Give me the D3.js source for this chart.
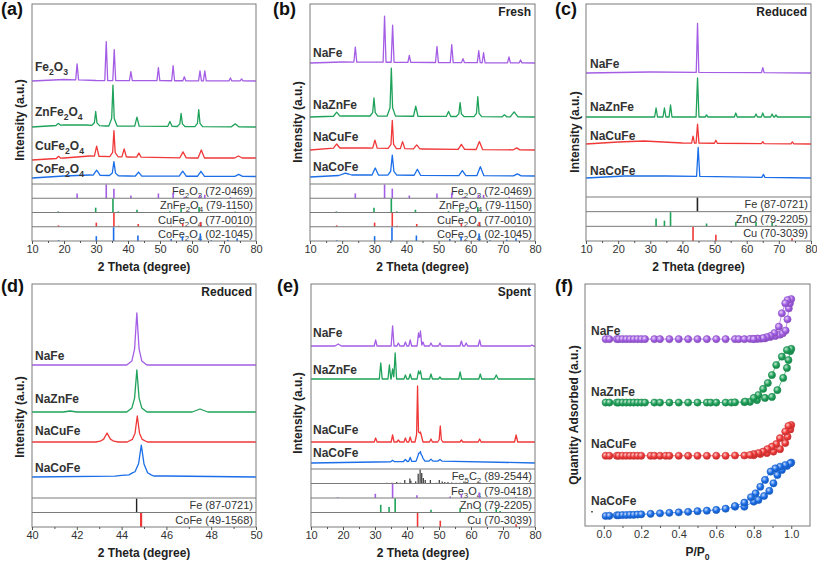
<!DOCTYPE html>
<html><head><meta charset="utf-8">
<script src="https://cdn.jsdelivr.net/npm/d3@7"></script>
<style>body{margin:0;background:#fff}svg{display:block}text{font-family:"Liberation Sans",Arial,sans-serif}</style>
</head><body><svg id="c" width="817" height="561"></svg>
<script>
// ---------------- DATA ----------------
const C_PURPLE="#a45ee5", C_GREEN="#1fa25a", C_RED="#f03838", C_BLUE="#1b6ee8", C_BLACK="#222", C_DARK="#444";
const sampleColors=[C_PURPLE,C_GREEN,C_RED,C_BLUE];
const naLabels=["NaFe","NaZnFe","NaCuFe","NaCoFe"];

// (a) precursor oxides: offsets (a.u.), baselines, peaks [2θ, height, halfwidth?]
const aLabels=["Fe_2O_3","ZnFe_2O_4","CuFe_2O_4","CoFe_2O_4"];
const aOffsets=[103,57,24,6];
const aWidths=[0.45,0.7,0.7,0.9];
const aBase=[[[10,0],[20,1.5],[30,0.5],[80,0]],[[10,0],[20,2],[27,2],[33,1],[80,0]],[[10,0],[20,2],[28,4],[40,3],[60,2],[80,2]],[[10,0],[20,2],[28,3],[40,2],[80,1.5]]];
const aPeaks=[
 [[24.1,16],[33.2,39],[35.7,31],[40.9,9],[49.5,13],[54.1,15],[57.6,4],[62.5,10],[64.0,10],[72.0,3],[75.5,2]],
 [[18.2,2],[29.9,10,0.4],[29.9,4,1.2],[35.3,30,0.4],[35.3,11,1.3],[42.8,9],[53.1,5],[56.6,9,0.4],[56.6,4,1.2],[62.1,12,0.4],[62.1,5,1.2],[73.5,3,1.2]],
 [[18.3,2],[30.2,10],[35.6,20,0.4],[35.6,6,1.3],[38.8,8],[43.4,4],[57.2,6,1],[62.9,8,1],[74.5,2,1.2]],
 [[30.2,5,1.1],[35.6,10,0.5],[35.6,4,1.4],[43.3,4,1],[57.1,5,1.1],[62.8,5,1.1],[74.6,2,1.2]]
];
// (b) fresh catalysts
const bOffsets=[121,67,34,7];
const bWidths=[0.45,0.7,0.7,0.9];
const bBase=[[[10,0],[20,1],[80,0]],[[10,0],[20,1],[30,1],[80,0]],[[10,0],[18,2],[28,2],[45,1],[80,0]],[[10,0],[22,2],[30,2],[80,1]]];
const bPeaks=[
 [[24.1,15],[33.2,46],[35.7,37],[40.9,7],[49.5,16],[54.1,18],[57.6,4],[62.5,12],[64.0,10],[71.9,6],[75.5,3]],
 [[18.3,4,1],[29.9,13,0.4],[29.9,5,1.2],[35.3,36,0.4],[35.3,12,1.3],[42.9,10],[53.1,5],[56.7,10,0.4],[56.7,4,1.2],[62.2,15,0.4],[62.2,5,1.2],[70.5,2],[73.5,5,1.2]],
 [[18.3,4,1],[30.2,8],[35.6,22,0.4],[35.6,6,1.3],[38.8,7],[43.2,4,1],[57.1,5,1],[62.7,8,1],[74.3,2,1]],
 [[21,2,2],[30.3,7,1],[35.6,14,0.5],[35.6,6,1.4],[43.4,6,1],[57.4,5,1.1],[63.0,9,1.1],[74.5,2,1.2]]
];
// (c) reduced catalysts
const cOffsets=[124,80,53,19];
const cWidths=[0.4,0.45,0.45,0.45];
const cBase=[[[10,0],[30,1],[80,0]],[[10,0],[80,0]],[[10,0],[20,2],[28,3],[40,1],[80,0]],[[10,0],[22,2],[35,2],[80,0]]];
const cPeaks=[
 [[44.7,49],[65.0,5]],
 [[31.8,9],[34.4,9],[36.3,12],[44.7,39],[47.5,2],[56.6,4],[62.9,3],[65.0,4],[67.9,3],[69.1,2]],
 [[43.3,7],[44.7,19],[50.4,3],[65.0,2],[74.2,2]],
 [[44.9,29,0.5],[65.2,3]]
];
// (d) reduced, 40–50°
const dOffsets=[133,86,56,21];
const dWidths=[0.3,0.3,0.3,0.3];
const dBase=[[[40,0],[50,0]],[[40,0],[50,0]],[[40,0],[50,0]],[[40,0],[44,1],[46,1],[50,0]]];
const dPeaks=[
 [[44.68,26,0.1],[44.68,18,0.22],[44.68,8,0.45]],
 [[41.7,1,0.3],[44.68,20,0.1],[44.68,14,0.22],[44.68,8,0.45],[47.5,3,0.35]],
 [[43.35,4,0.15],[43.35,3,0.3],[43.35,2,0.5],[44.7,12,0.1],[44.7,9,0.22],[44.7,5,0.45]],
 [[44.5,1.5,0.8],[44.88,12,0.12],[44.88,12,0.28],[44.88,6,0.55]]
];
// (e) spent catalysts
const eOffsets=[123,90,27,6];
const eWidths=[0.45,0.45,0.45,0.6];
const eBase=[[[10,0],[80,0]],[[10,0],[80,0]],[[10,0],[80,0]],[[10,0],[30,1],[50,2],[80,0]]];
const ePeaks=[
 [[18.5,2,1],[30.2,6],[35.5,20],[37.3,3],[39.5,4],[41.0,6],[43.6,13],[44.2,15],[45.0,4],[47.5,3],[50.3,3],[57.0,5],[58.5,3],[62.7,6],[79,1]],
 [[31.8,16],[34.5,14],[35.5,10],[36.3,26],[39.5,4],[41.0,5],[43.6,8],[44.2,8],[47.5,5],[50.3,2],[56.6,7],[62.9,5],[67.9,4,0.6]],
 [[30.2,4],[35.5,7],[37.3,2],[39.5,4],[41.0,5],[43.3,44,0.3],[43.3,12,0.8],[44.2,10,0.8],[47.5,3],[50.4,12,0.35],[50.4,4,0.8],[57.0,2],[62.7,3],[74.1,7,0.5]],
 [[35.5,1.5],[39.5,2],[41.0,4,0.5],[43.6,7,0.8],[44.2,7,0.7],[44.8,4,0.8],[47.5,2],[50.3,1.5]]
];

// reference patterns (JCPDS): [2θ, relative intensity]
const refFe2O3=[[24.1,0.35],[33.2,1.0],[35.6,0.7],[40.9,0.2],[49.5,0.35],[54.1,0.4],[57.6,0.1],[62.4,0.25],[64.0,0.25],[72.0,0.1],[75.5,0.06]];
const refZnFe2O4=[[18.2,0.08],[29.9,0.35],[35.3,1.0],[37.0,0.08],[42.8,0.2],[53.1,0.1],[56.6,0.3],[62.2,0.4],[73.5,0.08]];
const refCuFe2O4=[[18.3,0.1],[30.1,0.3],[35.6,1.0],[37.1,0.07],[43.2,0.2],[53.5,0.07],[57.1,0.25],[62.7,0.35],[74.1,0.08]];
const refCoFe2O4=[[18.3,0.05],[30.1,0.35],[35.5,1.0],[43.1,0.4],[53.5,0.15],[57.0,0.35],[62.6,0.55],[66.0,0.05],[71.2,0.1],[74.1,0.2]];
const refFe=[[44.67,1.0],[65.0,0.1]];
const refZnO=[[31.8,0.55],[34.4,0.4],[36.3,1.0],[47.5,0.2],[56.6,0.3],[62.9,0.3],[66.4,0.04],[67.9,0.25],[69.1,0.1],[72.6,0.03],[77.0,0.04]];
const refCu=[[43.3,1.0],[50.4,0.45],[74.1,0.2]];
const refCoFe=[[44.87,1.0]];
const refFe5C2=[[33.8,0.05],[35.3,0.05],[36.8,0.1],[37.9,0.05],[39.3,0.25],[40.9,0.35],[41.2,0.2],[42.7,0.15],[43.5,0.7],[44.1,1.0],[44.6,0.75],[45.1,0.4],[45.7,0.25],[47.3,0.25],[49.2,0.05],[50.1,0.25],[51.0,0.15],[51.8,0.1],[52.8,0.1],[54.0,0.08],[55.3,0.05],[56.5,0.05],[57.8,0.15],[58.5,0.05],[78.5,0.07]];
const refFe3O4=[[18.3,0.05],[30.1,0.3],[35.5,1.0],[43.1,0.2],[53.5,0.1],[57.0,0.3],[62.6,0.4],[74.0,0.08]];

// (f) N2 isotherms: P/P0 and quantity adsorbed (a.u.), adsorption then desorption
const fP=[
 [0.01,0.03,0.07,0.08,0.10,0.12,0.14,0.16,0.18,0.20,0.22,0.27,0.30,0.35,0.40,0.45,0.50,0.55,0.60,0.65,0.70,0.72,0.75,0.78,0.80,0.82,0.84,0.86,0.888,0.915,0.94,0.955,0.97,0.98,0.987,0.993,1.0,0.98,0.968,0.95,0.934,0.91,0.89,0.87,0.85,0.82,0.80],
 [0.01,0.03,0.07,0.08,0.10,0.12,0.14,0.16,0.18,0.20,0.22,0.27,0.30,0.35,0.40,0.45,0.50,0.55,0.57,0.60,0.65,0.68,0.70,0.75,0.78,0.817,0.86,0.897,0.926,0.957,0.977,0.985,0.995,1.0,0.977,0.95,0.92,0.897,0.875,0.85,0.825,0.80,0.755],
 [0.01,0.03,0.07,0.08,0.10,0.12,0.14,0.16,0.18,0.20,0.25,0.27,0.30,0.33,0.35,0.40,0.45,0.50,0.55,0.60,0.65,0.70,0.75,0.80,0.835,0.87,0.905,0.94,0.968,0.98,0.995,1.0,0.985,0.968,0.94,0.92,0.897,0.873,0.85,0.825,0.80,0.78],
 [0.01,0.03,0.07,0.08,0.10,0.12,0.14,0.16,0.18,0.20,0.25,0.30,0.35,0.40,0.45,0.50,0.55,0.60,0.65,0.70,0.75,0.80,0.825,0.855,0.883,0.905,0.926,0.95,0.977,1.0,0.995,0.968,0.94,0.915,0.89,0.86,0.835,0.81,0.785,0.75,0.70]
];
const fQ=[
 [77,77,77,77,77,77,77,77,77,77,77,77,77,77,77,77,77,77,77,77,77,77,77,77.1,77.1,77.2,77.2,77.3,77.9,78.3,78.8,79.4,80.5,85.1,89.6,91.7,93.4,93.0,91.7,87.6,82.1,79.5,78.3,77.8,77.4,77.2,77.0],
 [51,51,51,51,51,51,51,51,51,51,51,51,51,51,51,51,51,51,51,51,51,51,51.1,51.2,51.3,52.0,52.9,53.3,56.1,61.1,65.2,68.4,72.1,73.0,72.5,69.8,66.4,62.3,59.0,56.6,54.1,52.9,51.4],
 [29.2,29.2,29.2,29.2,29.2,29.2,29.2,29.2,29.2,29.2,29.2,29.2,29.2,29.2,29.2,29.2,29.2,29.2,29.2,29.2,29.2,29.3,29.3,29.4,29.9,30.3,30.9,31.9,34.4,37.0,40.0,41.8,41.4,39.1,36.4,34.0,32.9,31.9,30.9,30.3,29.9,29.5],
 [4.5,4.6,4.8,4.8,4.9,4.9,5.0,5.0,5.1,5.2,5.4,5.6,5.8,6.0,6.2,6.5,6.7,7.0,7.5,8.3,8.3,10.4,11.1,12.7,14.8,17.9,21.3,23.4,25.0,26.4,26.1,25.4,24.7,24.0,22.7,19.3,16.5,13.8,12.2,10.0,8.6]
];

const xTicks70=[10,20,30,40,50,60,70,80], xMinor70=[15,25,35,45,55,65,75];
const dTicks=[40,42,44,46,48,50], dMinor=[41,43,45,47,49];
const fTicks=[0,0.2,0.4,0.6,0.8,1.0], fMinor=[0.1,0.3,0.5,0.7,0.9];

// ---------------- DRAWING ----------------
const svg=d3.select("#c");
const FRAME="#7a7a7a";

function rich(sel,str,size){
  const parts=[];const re=/_(\d)/g;let last=0,m;
  while((m=re.exec(str))){if(m.index>last)parts.push([str.slice(last,m.index),0]);parts.push([m[1],1]);last=re.lastIndex;}
  if(last<str.length)parts.push([str.slice(last),0]);
  const sh=Math.round(size*0.3);let cur=0;
  parts.forEach(([t,s])=>{const ts=sel.append("tspan").text(t);const tg=s?sh:0;if(tg!==cur){ts.attr("dy",tg-cur);cur=tg;}if(s)ts.attr("font-size",size*0.72);});
  return sel;
}
function profile(base,peaks,wDef){
  const ks=new Set(base.map(d=>d[0]));
  peaks.forEach(p=>{const w=p[2]||wDef;ks.add(p[0]-w);ks.add(p[0]);ks.add(p[0]+w);});
  const lo=base[0][0],hi=base[base.length-1][0];
  const xs=[...ks].filter(v=>v>=lo&&v<=hi).sort((a,b)=>a-b);
  const bi=d3.scaleLinear().domain(base.map(d=>d[0])).range(base.map(d=>d[1]));
  return xs.map(v=>[v,bi(v)+d3.sum(peaks,p=>{const w=p[2]||wDef;return Math.max(0,p[1]*(1-Math.abs(v-p[0])/w));})]);
}
function axisX(g,x,bottom,ticks,minor,fmt){
  const a=g.append("g").attr("transform",`translate(0,${bottom})`)
   .call(d3.axisBottom(x).tickValues(ticks).tickSizeInner(3).tickSizeOuter(0).tickPadding(1.5).tickFormat(fmt));
  a.select(".domain").remove();
  a.selectAll("line").attr("stroke","#555");
  a.selectAll("text").attr("font-size",11).attr("fill","#333").attr("font-family","Liberation Sans, Arial, sans-serif");
  const b=g.append("g").attr("transform",`translate(0,${bottom})`).call(d3.axisBottom(x).tickValues(minor).tickSizeInner(2).tickSizeOuter(0).tickFormat(""));
  b.select(".domain").remove();b.selectAll("line").attr("stroke","#555");
}
function titles(g,P){
  g.append("text").attr("x",P.letterX).attr("y",P.letterY).attr("font-size",18).attr("font-weight","bold").attr("fill","#111").text(P.letter);
  if(P.tag)g.append("text").attr("x",P.right-4).attr("y",P.top+12).attr("text-anchor","end").attr("font-size",12).attr("font-weight","bold").attr("fill","#222").text(P.tag);
  rich(g.append("text").attr("x",(P.left+P.right)/2).attr("y",P.axisBottom+30).attr("text-anchor","middle").attr("font-size",12).attr("font-weight","bold").attr("fill","#222"),P.xTitle,12);
  g.append("text").attr("transform",`translate(${P.yTitleX},${P.yTitleY}) rotate(-90)`).attr("text-anchor","middle").attr("dy","0.35em").attr("font-size",12).attr("font-weight","bold").attr("fill","#222").text(P.yTitle);
}
function drawXRD(P){
  const g=svg.append("g");
  const x=d3.scaleLinear().domain(P.xDomain).range([P.left,P.right]);
  const y=d3.scaleLinear().domain([0,P.mainBottom-P.top]).range([P.mainBottom,P.top]);
  const line=d3.line().x(d=>x(d[0])).y(d=>y(d[1]));
  P.offsets.forEach((off,i)=>{
    const pts=profile(P.base[i].map(b=>[b[0],b[1]+off]),P.peaks[i],P.widths[i]);
    g.append("path").attr("d",line(pts)).attr("fill","none").attr("stroke",sampleColors[i]).attr("stroke-width",1.3).attr("stroke-linejoin","round");
    rich(g.append("text").attr("x",P.left+P.labelDx).attr("y",y(off)-P.labelDy[i]).attr("font-size",12).attr("font-weight","bold").attr("fill","#333"),P.labels[i],12);
  });
  const n=P.refs.length,sh=(P.axisBottom-P.mainBottom)/n;
  P.refs.forEach((r,i)=>{
    const t=P.mainBottom+i*sh,b=t+sh;
    rich(g.append("text").attr("x",P.right-3).attr("y",t+11).attr("text-anchor","end").attr("font-size",11).attr("fill","#333"),r.name,11);
    g.selectAll(null).data(r.sticks).enter().append("line")
     .attr("x1",d=>x(d[0])).attr("x2",d=>x(d[0])).attr("y1",b).attr("y2",d=>b-d[1]*(sh-0.5))
     .attr("stroke",r.color).attr("stroke-width",r.sw||1.6);
    g.append("line").attr("x1",P.left).attr("x2",P.right).attr("y1",t).attr("y2",t).attr("stroke",FRAME).attr("stroke-width",1);
  });
  g.append("rect").attr("x",P.left).attr("y",P.top).attr("width",P.right-P.left).attr("height",P.axisBottom-P.top).attr("fill","none").attr("stroke",FRAME).attr("stroke-width",1);
  axisX(g,x,P.axisBottom,P.ticks,P.minor,d3.format("d"));
  titles(g,P);
}
const refsOxide=[
 {name:"Fe_2O_3 (72-0469)",sticks:refFe2O3,color:C_PURPLE},
 {name:"ZnFe_2O_4 (79-1150)",sticks:refZnFe2O4,color:C_GREEN},
 {name:"CuFe_2O_4 (77-0010)",sticks:refCuFe2O4,color:C_RED},
 {name:"CoFe_2O_4 (02-1045)",sticks:refCoFe2O4,color:C_BLUE}];
const common={xTitle:"2 Theta (degree)",yTitle:"Intensity (a.u.)"};
drawXRD(Object.assign({},common,{letter:"(a)",letterX:1,letterY:15,left:32,right:256,top:4,mainBottom:184,axisBottom:241,xDomain:[10,80],ticks:xTicks70,minor:xMinor70,
 offsets:aOffsets,base:aBase,peaks:aPeaks,widths:aWidths,labels:aLabels,labelDx:3,labelDy:[10,11,10,5],refs:refsOxide,yTitleX:20,yTitleY:120}));
drawXRD(Object.assign({},common,{letter:"(b)",letterX:273,letterY:15,tag:"Fresh",left:310,right:535,top:4,mainBottom:184,axisBottom:241,xDomain:[10,80],ticks:xTicks70,minor:xMinor70,
 offsets:bOffsets,base:bBase,peaks:bPeaks,widths:bWidths,labels:naLabels,labelDx:3,labelDy:[6,8,9,6],refs:refsOxide,yTitleX:298,yTitleY:122}));
drawXRD(Object.assign({},common,{letter:"(c)",letterX:555,letterY:15,tag:"Reduced",left:586,right:811,top:4,mainBottom:197,axisBottom:241,xDomain:[10,80],ticks:xTicks70,minor:xMinor70,
 offsets:cOffsets,base:cBase,peaks:cPeaks,widths:cWidths,labels:naLabels,labelDx:4,labelDy:[5,6,4,3],
 refs:[{name:"Fe (87-0721)",sticks:refFe,color:C_BLACK},{name:"ZnO (79-2205)",sticks:refZnO,color:C_GREEN},{name:"Cu (70-3039)",sticks:refCu,color:C_RED}],yTitleX:575,yTitleY:132}));
drawXRD(Object.assign({},common,{letter:"(d)",letterX:1,letterY:292,tag:"Reduced",left:32,right:256,top:284,mainBottom:498,axisBottom:527,xDomain:[40,50],ticks:dTicks,minor:dMinor,
 offsets:dOffsets,base:dBase,peaks:dPeaks,widths:dWidths,labels:naLabels,labelDx:3,labelDy:[5,9,7,5],
 refs:[{name:"Fe (87-0721)",sticks:refFe,color:C_BLACK,sw:1.4},{name:"CoFe (49-1568)",sticks:refCoFe,color:C_RED,sw:2.2}],yTitleX:20,yTitleY:417}));
drawXRD(Object.assign({},common,{letter:"(e)",letterX:277,letterY:292,tag:"Spent",left:311,right:535,top:284,mainBottom:469,axisBottom:527,xDomain:[10,80],ticks:xTicks70,minor:xMinor70,
 offsets:eOffsets,base:eBase,peaks:ePeaks,widths:eWidths,labels:naLabels,labelDx:2,labelDy:[9,5,8,6],
 refs:[{name:"Fe_5C_2 (89-2544)",sticks:refFe5C2,color:C_DARK,sw:1.3},{name:"Fe_3O_4 (79-0418)",sticks:refFe3O4,color:C_PURPLE},{name:"ZnO (79-2205)",sticks:refZnO,color:C_GREEN},{name:"Cu (70-3039)",sticks:refCu,color:C_RED}],yTitleX:298,yTitleY:413}));

// (f) isotherms
(function(){
  const P={letter:"(f)",letterX:555,letterY:292,left:585,right:810,top:284,axisBottom:526,xTitle:"P/P_0",yTitle:"Quantity Adsorbed (a.u.)",yTitleX:574,yTitleY:415};
  const g=svg.append("g");
  const x=d3.scaleLinear().domain([-0.1,1.1]).range([P.left,P.right]);
  const y=d3.scaleLinear().domain([0,100]).range([527,283]);
  const defs=svg.append("defs");
  sampleColors.forEach((c,i)=>{
    const gr=defs.append("radialGradient").attr("id","ball"+i).attr("cx","38%").attr("cy","35%").attr("r","65%");
    gr.append("stop").attr("offset","0%").attr("stop-color",d3.interpolateRgb(c,"#fff")(0.75));
    gr.append("stop").attr("offset","55%").attr("stop-color",c);
    gr.append("stop").attr("offset","100%").attr("stop-color",d3.color(c).darker(0.6));
  });
  const line=d3.line().x(d=>x(d[0])).y(d=>y(d[1]));
  const labelDy=[4,7,8,11];
  fP.forEach((ps,i)=>{
    const pts=ps.map((p,k)=>[p,fQ[i][k]]);
    g.append("path").attr("d",line(pts)).attr("fill","none").attr("stroke",sampleColors[i]).attr("stroke-width",0.9).attr("opacity",0.8);
    g.selectAll(null).data(pts).enter().append("circle").attr("cx",d=>x(d[0])).attr("cy",d=>y(d[1])).attr("r",3.6)
     .attr("fill",`url(#ball${i})`).attr("stroke",d3.color(sampleColors[i]).darker(0.4)).attr("stroke-width",0.6);
    g.append("text").attr("x",P.left+6).attr("y",y(fQ[i][0])-labelDy[i]).attr("font-size",12).attr("font-weight","bold").attr("fill","#333").text(naLabels[i]);
  });
  g.append("rect").attr("x",P.left).attr("y",P.top).attr("width",P.right-P.left).attr("height",P.axisBottom-P.top).attr("fill","none").attr("stroke",FRAME);
  axisX(g,x,P.axisBottom,fTicks,fMinor,d3.format(".1f"));
  titles(g,P);
})();
</script></body></html>
